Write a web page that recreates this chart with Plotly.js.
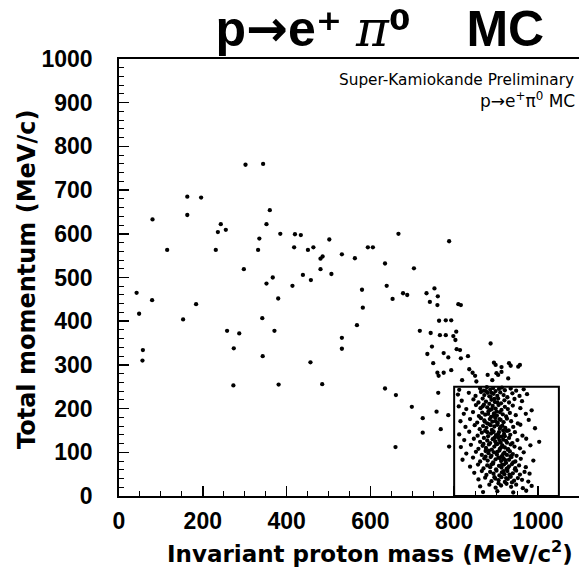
<!DOCTYPE html>
<html><head><meta charset="utf-8">
<script src="https://cdn.plot.ly/plotly-3.0.1.min.js"></script>
<style>html,body{margin:0;padding:0;background:#fff}</style>
</head><body><div id="chart" style="width:579px;height:575px"></div>
<script>
// Invariant proton mass (MeV/c^2) and total momentum (MeV/c), events outside the signal box
const massOut = [302,344,163,196,80,163,360,243,236,255,352,115,231,335,332,385,420,434,418,451,464,502,481,486,298,481,532,563,594,606,635,667,367,352,439,414,458,507,42,79,48,184,153,380,342,580,582,639,653,568,258,287,371,274,532,532,57,56,343,457,273,381,485,635,661,
788,704,678,688,734,753,761,742,760,810,816,764,780,793,718,744,766,780,798,805,803,747,806,814,736,775,786,816,833,887,750,760,763,775,793,836,844,850,895,899,913,931,935,957,953,880,901,905,913,929,819,853,891,762,
699,725,758,725,768,788,786,660];
const momOut = [758,760,685,683,633,643,654,622,604,609,622,563,563,589,563,600,599,597,569,563,569,587,543,548,519,519,553,544,569,569,532,600,500,486,506,481,494,508,465,448,417,439,404,452,407,472,431,481,451,391,378,372,378,338,362,337,334,310,320,306,253,255,256,246,231,
583,521,464,460,464,475,457,444,437,439,437,401,402,402,378,373,368,368,366,376,357,342,336,334,325,327,317,315,320,349,304,282,275,282,288,290,282,275,305,300,295,304,298,300,296,277,281,277,284,269,265,262,265,236,
204,178,193,145,153,113,185,112];
// events inside the signal box
const massIn = [862,871,878,886,893,899,907,914,921,935,948,966,812,
809,835,851,864,872,880,887,894,903,910,918,927,939,956,974,
818,846,858,868,876,884,889,897,905,912,920,931,944,962,
811,829,852,863,871,879,886,892,899,906,913,921,928,940,958,985,
823,845,859,867,874,882,888,895,902,909,916,924,933,947,971,
815,838,855,864,872,879,885,891,898,904,911,918,926,936,952,978,
827,849,861,869,877,884,890,896,903,909,915,922,930,941,958,993,
812,836,856,866,874,881,888,894,900,907,913,919,926,934,945,963,
824,847,862,871,879,886,892,898,905,911,917,924,931,939,951,972,1003,
816,840,858,868,876,883,890,896,903,909,915,921,928,935,944,957,982,
829,852,866,875,882,889,895,902,908,914,920,926,933,940,949,966,
820,845,862,872,880,887,893,899,906,912,918,924,931,937,946,959,989,
838,857,870,879,886,893,900,907,913,919,925,931,938,946,955,971,
848,866,877,886,894,901,908,914,920,927,933,940,948,957,968,980,
858,874,889,898,906,913,921,928,935,943,952,962,977,
862,884,899,912,925,936,948,964,985,
869,903,941,972,
884,896,903,890,901,894,908,887,899,911,893,905,917,896,908,921,900,912,926,903,917,929,909,922,935,914,928,941,918,932,945,924,938,
876,889,868,881,873,879,870,883,875,889,896,906];
const momIn = [246,241,249,243,247,240,245,248,242,246,241,244,243,
232,236,229,238,231,236,227,234,229,237,231,226,235,229,233,
218,221,214,223,216,211,220,215,223,212,219,214,222,217,
205,199,208,201,209,203,197,206,200,208,197,204,199,207,201,196,
188,192,183,191,186,194,181,189,184,192,187,182,190,185,188,
171,176,168,178,173,166,176,170,179,167,174,169,177,171,166,174,
158,162,153,160,156,164,151,159,163,154,161,156,150,158,163,155,
141,147,138,145,149,137,143,148,139,146,136,142,149,140,146,138,
128,131,124,133,127,121,130,125,134,122,129,126,133,121,128,131,124,
112,117,108,115,110,118,106,113,119,108,116,111,106,118,113,109,116,
97,101,94,103,98,92,100,95,104,91,99,94,102,96,92,100,
83,88,79,86,81,89,77,84,88,80,86,76,83,89,79,85,81,
67,72,63,70,66,74,61,69,65,72,62,68,73,64,70,66,
53,57,48,55,51,58,47,54,50,57,46,52,58,49,55,51,
38,42,34,40,36,43,32,39,44,35,41,37,33,
22,26,19,24,28,21,26,18,23,
9,11,8,12,
228,222,214,199,193,184,176,162,171,158,146,141,150,133,128,137,119,111,122,101,96,107,87,82,91,71,64,77,57,49,61,41,31,
240,236,205,188,170,146,119,104,90,72,43,29];
const cutMass = [800, 1050];
const cutMom = [0, 250];
const xTickVals = [0, 200, 400, 600, 800, 1000];
const yTickVals = [0, 100, 200, 300, 400, 500, 600, 700, 800, 900, 1000];

const marker = {color: '#000', size: 4.3, symbol: 'circle', line: {width: 0}};
const traces = [
  {x: massOut, y: momOut, type: 'scatter', mode: 'markers', marker: marker, hoverinfo: 'x+y', showlegend: false},
  {x: massIn, y: momIn, type: 'scatter', mode: 'markers', marker: marker, hoverinfo: 'x+y', showlegend: false}
];
const tickFont = {family: 'Liberation Sans, Arial, sans-serif', size: 23, color: '#000', weight: 'bold'};
const dv = 'font-family:\'DejaVu Sans\'';
const layout = {
  width: 579, height: 575,
  margin: {l: 119, r: 0, t: 59, b: 79, pad: 0},
  paper_bgcolor: '#fff', plot_bgcolor: '#fff',
  showlegend: false,
  title: {
    text: 'p<span style="' + dv + '">→</span>e<span style="' + dv + '">⁺</span> <span style="font-family:\'DejaVu Serif\';font-style:italic;font-weight:normal">π</span><span style="' + dv + '">⁰</span>    MC',
    font: {family: 'Liberation Sans, Arial, sans-serif', size: 50, color: '#000', weight: 'bold'},
    xref: 'container', x: 0.656, xanchor: 'center',
    yref: 'container', y: 0.951, yanchor: 'middle'
  },
  xaxis: {
    range: [0, 1098], tickvals: xTickVals, ticks: 'inside', ticklen: 10, tickwidth: 1.5, tickcolor: '#000',
    showline: true, linecolor: '#000', linewidth: 1.8, mirror: true,
    showgrid: false, zeroline: false, tickfont: tickFont, ticklabelstandoff: 4,
    minor: {ticks: 'inside', dtick: 50, ticklen: 5, tickwidth: 1, tickcolor: '#000', showgrid: false}
  },
  yaxis: {
    range: [0, 1000], tickvals: yTickVals, ticks: 'inside', ticklen: 10, tickwidth: 1.5, tickcolor: '#000',
    showline: true, linecolor: '#000', linewidth: 1.8, mirror: false,
    showgrid: false, zeroline: false, tickfont: tickFont, ticklabelstandoff: 20,
    minor: {ticks: 'inside', dtick: 20, ticklen: 5, tickwidth: 1, tickcolor: '#000', showgrid: false}
  },
  shapes: [{type: 'rect', xref: 'x', yref: 'y', x0: cutMass[0], x1: cutMass[1], y0: cutMom[0], y1: cutMom[1], line: {color: '#000', width: 2}}],
  annotations: [
    {text: 'Invariant proton mass (MeV/c<sup>2</sup>)', xref: 'paper', yref: 'paper', x: (370 - 119) / 460, y: -(552 - 496) / 437,
     xanchor: 'center', yanchor: 'middle', showarrow: false,
     font: {family: 'DejaVu Sans, sans-serif', size: 23, color: '#000', weight: 'bold'}},
    {text: 'Total momentum (MeV/c)', xref: 'paper', yref: 'paper', x: -(119 - 27) / 460, y: (496 - 280) / 437,
     xanchor: 'center', yanchor: 'middle', textangle: -90, showarrow: false,
     font: {family: 'DejaVu Sans, sans-serif', size: 24, color: '#000', weight: 'bold'}},
    {text: 'Super-Kamiokande Preliminary', xref: 'paper', yref: 'paper', x: (576 - 119) / 460, y: (496 - 80) / 437,
     xanchor: 'right', yanchor: 'middle', showarrow: false,
     font: {family: 'DejaVu Sans, sans-serif', size: 15.3, color: '#000'}},
    {text: 'p→e<sup>+</sup>π<sup>0</sup> MC', xref: 'paper', yref: 'paper', x: (577 - 119) / 460, y: (496 - 100) / 437,
     xanchor: 'right', yanchor: 'middle', showarrow: false,
     font: {family: 'DejaVu Sans, sans-serif', size: 17, color: '#000'}}
  ]
};
Plotly.newPlot('chart', traces, layout, {staticPlot: true, displayModeBar: false});
</script>
</body></html>
